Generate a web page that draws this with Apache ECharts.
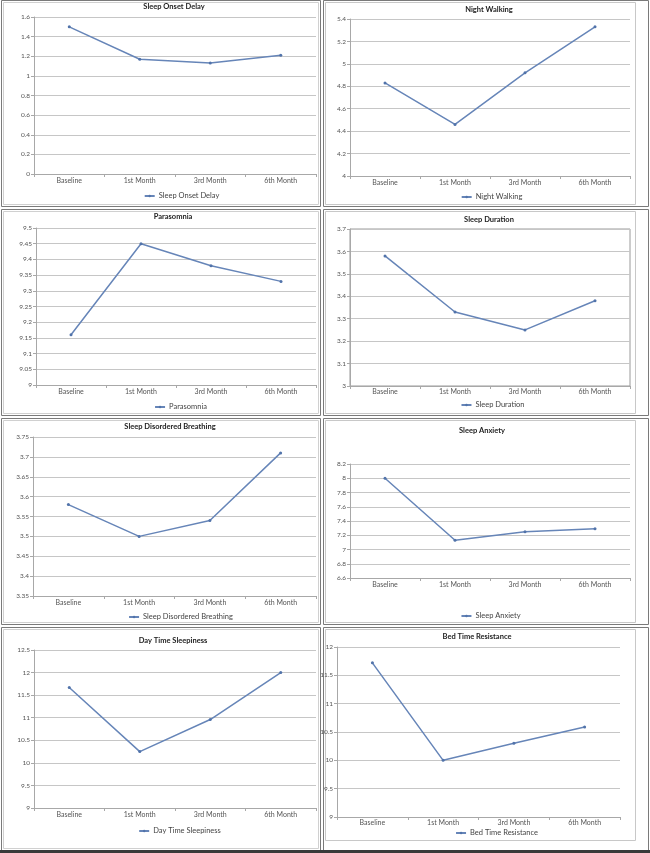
<!DOCTYPE html>
<html><head><meta charset="utf-8">
<script src="https://cdn.jsdelivr.net/npm/echarts@6/dist/echarts.min.js"></script>
<style>html,body{margin:0;padding:0;background:#fff}#c{width:650px;height:853px}</style>
</head><body><div id="c"></div>
<script>
// ---- data ----
const categories = ['Baseline', '1st Month', '3rd Month', '6th Month'];
const titles = ['Sleep Onset Delay', 'Night Walking', 'Parasomnia', 'Sleep Duration',
  'Sleep Disordered Breathing', 'Sleep Anxiety', 'Day Time Sleepiness', 'Bed Time Resistance'];
const sleepOnsetDelay = [1.5, 1.17, 1.13, 1.21];
const nightWalking = [4.83, 4.46, 4.92, 5.33];
const parasomnia = [9.16, 9.45, 9.38, 9.33];
const sleepDuration = [3.58, 3.33, 3.25, 3.38];
const sleepDisorderedBreathing = [3.58, 3.50, 3.54, 3.71];
const sleepAnxiety = [8.0, 7.13, 7.25, 7.29];
const dayTimeSleepiness = [11.67, 10.25, 10.96, 12.0];
const bedTimeResistance = [11.72, 10.0, 10.3, 10.59];
const yMin = [0, 4, 9, 3, 3.35, 6.6, 9, 9];
const yMax = [1.6, 5.4, 9.5, 3.7, 3.75, 8.2, 12.5, 12];
const yStep = [0.2, 0.2, 0.05, 0.1, 0.05, 0.2, 0.5, 0.5];
const seriesValues = [sleepOnsetDelay, nightWalking, parasomnia, sleepDuration,
  sleepDisorderedBreathing, sleepAnxiety, dayTimeSleepiness, bedTimeResistance];

// ---- layout (pixels) ----
const layout = [
  {grid: [34, 17, 282, 157], title: [174, 8], legend: [181, 197], lm: 3, box: false},
  {grid: [350, 19, 280, 157], title: [489, 11], legend: [491, 198], lm: 3, box: false},
  {grid: [36, 228, 280, 157], title: [173, 218], legend: [180, 408], lm: 3, box: false},
  {grid: [350, 229, 280, 157], title: [489, 221], legend: [492, 406], lm: 2.5, box: true},
  {grid: [33, 437, 283, 159], title: [170, 428], legend: [180, 618], lm: 3, box: false},
  {grid: [350, 464, 280, 114], title: [482, 432], legend: [490, 617], lm: 3, box: false},
  {grid: [34, 650, 282, 158], title: [173, 642], legend: [179, 832], lm: 3.5, box: false},
  {grid: [337, 647, 283, 170], title: [477, 638], legend: [496, 834], lm: 2.5, box: false}
];

const FONT = 'Lato, "Open Sans", sans-serif';
const LINE = '#6685b8';
const legendFont = 7.5;
const mctx = document.createElement('canvas').getContext('2d');
mctx.font = legendFont + 'px ' + FONT;
function tw(s) { return mctx.measureText(s).width; }

const grids = [], xAxes = [], yAxes = [], series = [], titlesOpt = [], legends = [];
layout.forEach((L, i) => {
  grids.push({left: L.grid[0], top: L.grid[1], width: L.grid[2], height: L.grid[3],
    show: L.box, borderColor: '#9a9a9a', borderWidth: 1, containLabel: false});
  xAxes.push({type: 'category', gridIndex: i, data: categories, boundaryGap: true,
    axisLine: {lineStyle: {color: '#a8a8a8'}},
    axisTick: {show: true, length: 3, lineStyle: {color: '#a8a8a8'}},
    axisLabel: {fontSize: 7, color: '#555', fontFamily: FONT, margin: L.lm}});
  yAxes.push({type: 'value', gridIndex: i, min: yMin[i], max: yMax[i], interval: yStep[i],
    axisLine: {show: true, lineStyle: {color: '#a8a8a8'}},
    axisTick: {show: true, length: 3, lineStyle: {color: '#a8a8a8'}},
    splitLine: {lineStyle: {color: '#c6c6c6'}},
    axisLabel: {fontSize: 6.5, color: '#555', fontFamily: FONT, margin: 4}});
  series.push({type: 'line', name: titles[i], xAxisIndex: i, yAxisIndex: i,
    data: seriesValues[i], symbol: 'circle', symbolSize: 3,
    lineStyle: {color: LINE, width: 1.5}, itemStyle: {color: '#5173aa'},
    animation: false});
  titlesOpt.push({text: titles[i], left: L.title[0], top: L.title[1] - 5, padding: 0,
    textAlign: 'center',
    textStyle: {fontSize: 7.5, fontWeight: 'bold', color: '#222', fontFamily: FONT}});
  const lw = 10 + 4 + tw(titles[i]);
  legends.push({data: [titles[i]], left: L.legend[0] - lw / 2, top: L.legend[1] - 5,
    padding: 0, itemWidth: 10, itemHeight: 3,
    textStyle: {fontSize: legendFont, color: '#444', fontFamily: FONT, padding: [0, 0, 0, -1]}});
});

// frames
const graphics = [];
const rowsL = [[0.5, 206.5], [209.5, 415.5], [418.5, 624.5], [627.5, 850.5]];
rowsL.forEach(r => {
  graphics.push({type: 'rect', shape: {x: 1.5, y: r[0], width: 319, height: r[1] - r[0]},
    style: {fill: null, stroke: '#7a7a7a', lineWidth: 1}, silent: true});
  graphics.push({type: 'rect', shape: {x: 3.5, y: r[0] + 2, width: 315, height: r[1] - r[0] - 4},
    style: {fill: null, stroke: '#d0d0d0', lineWidth: 1}, silent: true});
  graphics.push({type: 'rect', shape: {x: 323.5, y: r[0], width: 325, height: r[1] - r[0]},
    style: {fill: null, stroke: '#7a7a7a', lineWidth: 1}, silent: true});
  graphics.push({type: 'rect', shape: {x: 325.5, y: r[0] + 2, width: 310, height: r[1] - r[0] - (r[1] > 800 ? 12 : 4)},
    style: {fill: null, stroke: '#c8c8c8', lineWidth: 1}, silent: true});
});
graphics.push({type: 'rect', shape: {x: 0, y: 850, width: 650, height: 3},
  style: {fill: '#3a3a3a'}, silent: true});

const chart = echarts.init(document.getElementById('c'), null, {renderer: 'canvas'});
chart.setOption({
  animation: false,
  backgroundColor: '#fff',
  title: titlesOpt,
  legend: legends,
  grid: grids,
  xAxis: xAxes,
  yAxis: yAxes,
  series: series,
  graphic: graphics
});
</script></body></html>
